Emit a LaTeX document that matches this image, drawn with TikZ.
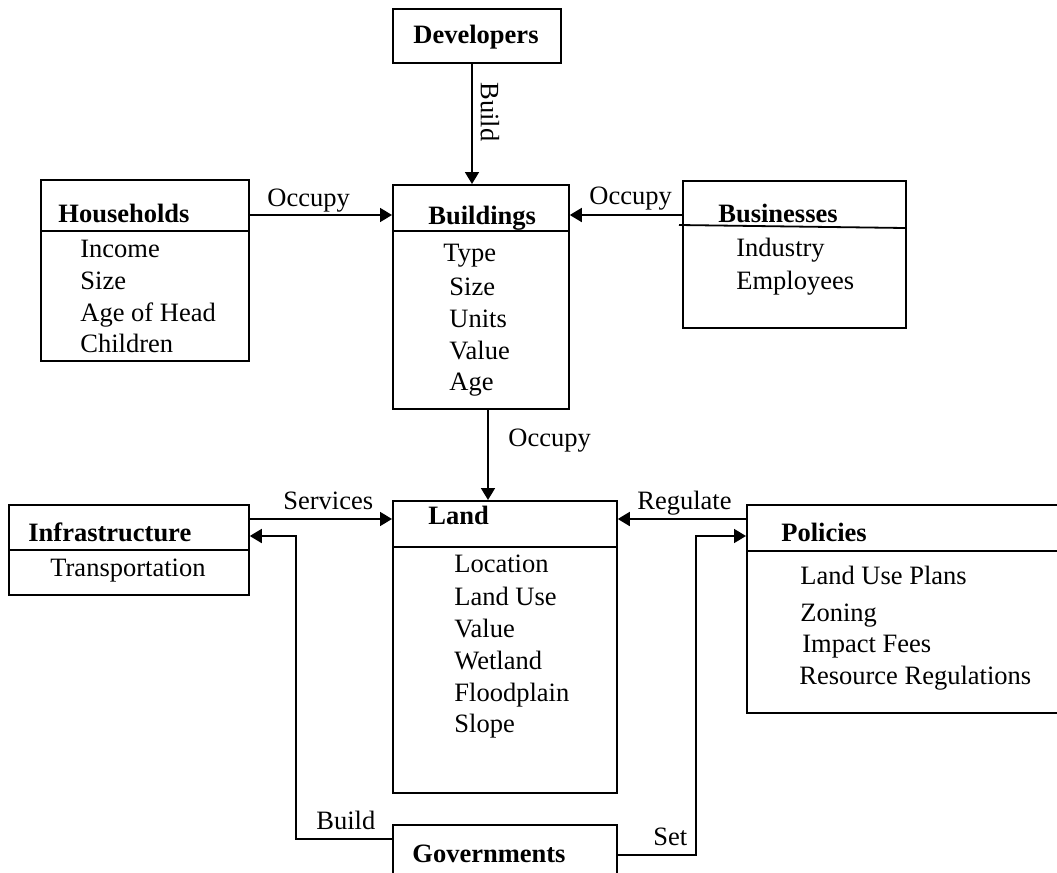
\documentclass[tikz,border=0pt]{standalone}
\usepackage{fontspec}
\setmainfont{Liberation Serif}
\usetikzlibrary{arrows.meta}
\begin{document}
\begin{tikzpicture}[x=0.5pt,y=-0.5pt,
  font=\fontsize{13.25}{16}\selectfont,
  box/.style={draw, line width=0.9pt, rectangle, anchor=north west, inner sep=0pt},
  ttl/.style={anchor=base west, inner sep=0pt, font=\fontsize{13.25}{16}\selectfont\bfseries},
  itm/.style={anchor=base west, inner sep=0pt},
  lbl/.style={anchor=base west, inner sep=0pt},
  conn/.style={line width=0.9pt, -{Triangle[length=6pt,width=7pt]}},
  sep/.style={line width=0.9pt}]
\clip (0,0) rectangle (1057,873);
\fill[white] (0,0) rectangle (1057,873);

% boxes
\node[box, minimum width=84pt, minimum height=27pt] (dev) at (392,8) {};
\node[box, minimum width=104pt, minimum height=90.5pt] (hh) at (40,179) {};
\node[box, minimum width=88pt, minimum height=112pt] (bld) at (392,184) {};
\node[box, minimum width=111.5pt, minimum height=73.5pt] (bus) at (682,180) {};
\node[box, minimum width=120pt, minimum height=45pt] (infra) at (8,504) {};
\node[box, minimum width=112pt, minimum height=146pt] (land) at (392,500) {};
\node[box, minimum width=170pt, minimum height=104pt] (pol) at (746,504) {};
\node[box, minimum width=112pt, minimum height=40pt] (gov) at (392,824) {};

% separators
\coordinate (s1) at (0,231);
\coordinate (s2a) at (679,225);
\coordinate (s2b) at (905,228);
\coordinate (s3) at (0,547);
\coordinate (s4) at (0,550);
\coordinate (s5) at (0,551);
\draw[sep] (hh.west |- s1) -- (hh.east |- s1);
\draw[sep] (bld.west |- s1) -- (bld.east |- s1);
\draw[sep] (s2a) -- (s2b);
\draw[sep] (land.west |- s3) -- (land.east |- s3);
\draw[sep] (infra.west |- s4) -- (infra.east |- s4);
\draw[sep] (pol.west |- s5) -- (pol.east |- s5);

% titles
\node[ttl] (tdev) at (476,37) [anchor=center] {Developers};
\node[ttl] (thh) at (58,222) {Households};
\node[ttl] (tbus) at (718,222) {Businesses};
\node[ttl] (tbld) at (428,224) {Buildings};
\node[ttl] (tland) at (428,524) {Land};
\node[ttl] (tinfra) at (28,541) {Infrastructure};
\node[ttl] (tpol) at (781,541) {Policies};
\node[ttl] (tgov) at (412,862) {Governments};

% items
\node[itm] (h1) at (80,257) {Income};
\node[itm] (h2) at (80,289) {Size};
\node[itm] (h3) at (80,321) {Age of Head};
\node[itm] (h4) at (80,352) {Children};

\node[itm] (b1) at (736,256) {Industry};
\node[itm] (b2) at (736,289) {Employees};

\node[itm] (g1) at (443,261) {Type};
\node[itm] (g2) at (449,295) {Size};
\node[itm] (g3) at (449,327) {Units};
\node[itm] (g4) at (449,359) {Value};
\node[itm] (g5) at (449,390) {Age};

\node[itm] (l1) at (454,572) {Location};
\node[itm] (l2) at (454,605) {Land Use};
\node[itm] (l3) at (454,637) {Value};
\node[itm] (l4) at (454,669) {Wetland};
\node[itm] (l5) at (454,701) {Floodplain};
\node[itm] (l6) at (454,732) {Slope};

\node[itm] (i1) at (50,576) {Transportation};

\node[itm] (p1) at (800,584) {Land Use Plans};
\node[itm] (p2) at (800,621) {Zoning};
\node[itm] (p3) at (802,652) {Impact Fees};
\node[itm] (p4) at (799,684) {Resource Regulations};

% connector labels
\node[lbl] (lo1) at (267,206) {Occupy};
\node[lbl] (lo2) at (589,204) {Occupy};
\node[anchor=center, inner sep=0pt, rotate=-90] (lbuild) at (490,112) {Build};
\node[lbl] (lo3) at (508,446) {Occupy};
\node[lbl] (lserv) at (283,509) {Services};
\node[lbl] (lreg) at (637,509) {Regulate};
\node[lbl] (lgb) at (316,829) {Build};
\node[lbl] (lset) at (653,845) {Set};

% connectors
\coordinate (r1) at (0,215);
\coordinate (r2) at (0,519);
\coordinate (r3) at (0,536);
\coordinate (c1) at (472,0);
\coordinate (c2) at (488,0);
\coordinate (gb) at (296,839);
\coordinate (gs) at (696,855);

\draw[conn] (dev.south -| c1) -- (bld.north -| c1);
\draw[conn] (hh.east |- r1) -- (bld.west |- r1);
\draw[conn] (bus.west |- r1) -- (bld.east |- r1);
\draw[conn] (bld.south -| c2) -- (land.north -| c2);
\draw[conn] (infra.east |- r2) -- (land.west |- r2);
\draw[conn] (pol.west |- r2) -- (land.east |- r2);
\draw[conn] (gov.west |- gb) -- (gb) -- (gb |- r3) -- (infra.east |- r3);
\draw[conn] (gov.east |- gs) -- (gs) -- (gs |- r3) -- (pol.west |- r3);
\end{tikzpicture}
\end{document}
